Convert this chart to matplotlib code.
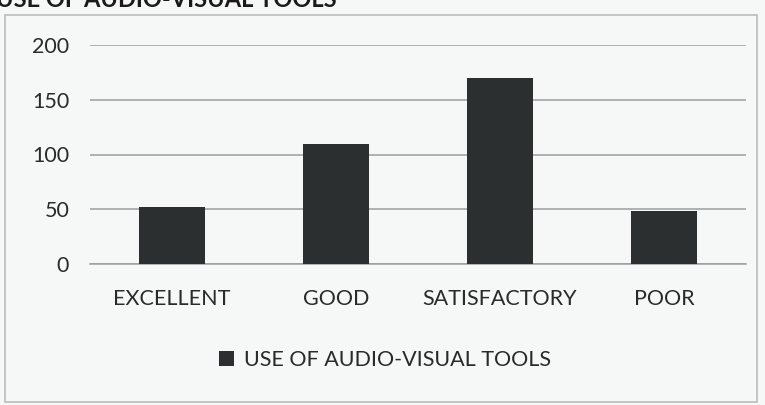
import matplotlib
matplotlib.use("Agg")
import matplotlib.pyplot as plt
from matplotlib.patches import Rectangle

categories = ["EXCELLENT", "GOOD", "SATISFACTORY", "POOR"]
values = [52, 110, 170, 48]
series_name = "USE OF AUDIO-VISUAL TOOLS"
yticks = [0, 50, 100, 150, 200]

plt.rcParams['font.family'] = ['Lato', 'DejaVu Sans']

W, H = 765, 405
fig = plt.figure(figsize=(W / 100, H / 100), dpi=100)
fig.patch.set_facecolor('#f6f8f8')

# outer chart border
fig.patches.append(Rectangle((5 / W, 3 / H), 752 / W, 387 / H, transform=fig.transFigure,
                             fill=False, edgecolor='#b8bcbc', linewidth=1.2))

# title fragment at the very top (cut off in the reference photo)
fig.text(-0.005, 1 - 7 / H, "USE OF AUDIO-VISUAL TOOLS", fontsize=17, fontweight='bold',
         color='#1a1a1a', va='baseline', ha='left')

ax = fig.add_axes([90 / W, 1 - 264 / H, 656 / W, 219 / H])
ax.set_facecolor('none')
x = range(len(categories))
ax.bar(x, values, width=0.4, color='#2c2f2f', label=series_name, zorder=3)
ax.set_xlim(-0.5, len(categories) - 0.5)
ax.set_ylim(0, 200)
ax.set_yticks(yticks)
ax.set_xticks(list(x))
ax.set_xticklabels(categories)
ax.yaxis.grid(True, color='#9a9e9e', linewidth=1.1, zorder=0)
for s in ['top', 'right', 'left']:
    ax.spines[s].set_visible(False)
ax.spines['bottom'].set_color('#9a9e9e')
ax.spines['bottom'].set_linewidth(1.1)
ax.tick_params(axis='both', length=0, labelsize=15.5, labelcolor='#2a2a2a')
ax.tick_params(axis='y', pad=15)
ax.tick_params(axis='x', pad=18)

fig.legend(loc='center', bbox_to_anchor=(385 / W, 1 - 360 / H), frameon=False,
           fontsize=15.5, handlelength=0.7, handleheight=0.7, handletextpad=0.5,
           labelcolor='#2a2a2a')

fig.savefig("out.png", dpi=100, facecolor=fig.get_facecolor())
